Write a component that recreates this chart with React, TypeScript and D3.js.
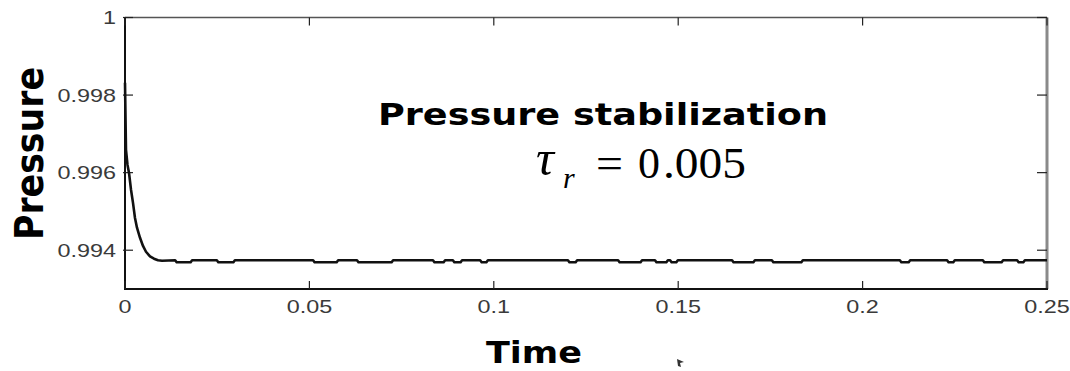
import React from 'react';
import * as d3 from 'd3';

// transient part
const decayTime = [0, 0.00027, 0.00068, 0.00108, 0.00163, 0.00217, 0.00271, 0.00325, 0.00407, 0.00488, 0.00569, 0.00678, 0.00786, 0.00895, 0.01003];
const decayPressure = [0.99832, 0.99659, 0.9962, 0.996, 0.99556, 0.99522, 0.99483, 0.99458, 0.99432, 0.99411, 0.99396, 0.99384, 0.99378, 0.99374, 0.99373];

// steady level and the small dips along it
const steadyLevel = 0.99374;
const dipLevel = 0.99369;
const dipStart = [0.0136, 0.0249, 0.051, 0.0629, 0.0835, 0.0889, 0.0963, 0.1201, 0.1337, 0.1437, 0.1478, 0.1646, 0.1754, 0.2101, 0.2229, 0.2326, 0.2419];
const dipEnd = [0.0182, 0.0298, 0.0578, 0.0727, 0.0868, 0.0914, 0.0984, 0.1226, 0.1402, 0.1472, 0.1499, 0.1708, 0.1838, 0.2129, 0.225, 0.2381, 0.244];
const endTime = 0.25;

const xTicks = [0, 0.05, 0.1, 0.15, 0.2, 0.25];
const xTickLabels = ['0', '0.05', '0.1', '0.15', '0.2', '0.25'];
const yTicks = [0.994, 0.996, 0.998, 1];
const yTickLabels = ['0.994', '0.996', '0.998', '1'];

const width = 1070;
const height = 371;
const margin = { top: 17.5, right: 23, bottom: 82, left: 125 };

export default function App() {
  const x = d3.scaleLinear().domain([0, 0.25]).range([margin.left, width - margin.right]);
  const y = d3.scaleLinear().domain([0.993, 1]).range([height - margin.bottom, margin.top]);

  const points: [number, number][] = decayTime.map((t, i) => [t, decayPressure[i]]);
  const e = 0.0004;
  dipStart.forEach((s, i) => {
    points.push([s, steadyLevel], [s + e, dipLevel], [dipEnd[i] - e, dipLevel], [dipEnd[i], steadyLevel]);
  });
  points.push([endTime, steadyLevel]);

  const line = d3
    .line<[number, number]>()
    .x((d) => x(d[0]))
    .y((d) => y(d[1]));

  const x0 = x(0);
  const x1 = x(0.25);
  const y0 = y(0.993);
  const y1 = y(1);
  const tickLen = 8;
  const labelFont = '"Liberation Sans", Arial, sans-serif';

  return (
    <svg width={width} height={height} style={{ position: 'absolute', left: 0, top: 0, background: '#fff' }}>
      {/* frame */}
      <line x1={x0} x2={x1} y1={y1} y2={y1} stroke="#555" strokeWidth={1.5} />
      <line x1={x1} x2={x1} y1={y1} y2={y0} stroke="#8a8a8a" strokeWidth={3} />
      <line x1={x0} x2={x1 + 1} y1={y0} y2={y0} stroke="#111" strokeWidth={2} />
      <line x1={x0} x2={x0} y1={y1 - 0.5} y2={y0 + 1} stroke="#111" strokeWidth={2} />

      {/* ticks */}
      {xTicks.map((t) => (
        <g key={'xt' + t}>
          <line x1={x(t)} x2={x(t)} y1={y0} y2={y0 - tickLen} stroke="#222" strokeWidth={1.2} />
          <line x1={x(t)} x2={x(t)} y1={y1} y2={y1 + tickLen} stroke="#222" strokeWidth={1.2} />
        </g>
      ))}
      {yTicks.map((t) => (
        <g key={'yt' + t}>
          <line x1={x0 - 2} x2={x0 + tickLen} y1={y(t)} y2={y(t)} stroke="#222" strokeWidth={1.2} />
          <line x1={x1} x2={x1 - tickLen - 2} y1={y(t)} y2={y(t)} stroke="#222" strokeWidth={1.2} />
        </g>
      ))}

      {/* tick labels */}
      {xTicks.map((t, i) => (
        <text
          key={'xl' + t}
          transform={`translate(${x(t)},${y0 + 24}) scale(1.3,1)`}
          textAnchor="middle"
          fontFamily={labelFont}
          fontSize={18}
          fill="#3a3a3a"
        >
          {xTickLabels[i]}
        </text>
      ))}
      {yTicks.map((t, i) => (
        <text
          key={'yl' + t}
          transform={`translate(${x0 - 9},${y(t) + 6.5}) scale(1.3,1)`}
          textAnchor="end"
          fontFamily={labelFont}
          fontSize={18}
          fill="#3a3a3a"
        >
          {yTickLabels[i]}
        </text>
      ))}

      {/* curve */}
      <path d={line(points) || ''} fill="none" stroke="#111" strokeWidth={2.6} strokeLinejoin="round" />

      {/* axis titles */}
      <text
        x={486}
        y={363}
        fontFamily='"DejaVu Sans", Verdana, sans-serif'
        fontWeight="bold"
        fontSize={31}
        textLength={96}
        lengthAdjust="spacingAndGlyphs"
        fill="#000"
      >
        Time
      </text>
      <text
        transform="translate(43,240) scale(1.12,1) rotate(-90)"
        fontFamily='"DejaVu Sans", Verdana, sans-serif'
        fontWeight="bold"
        fontSize={35}
        textLength={173}
        lengthAdjust="spacingAndGlyphs"
        fill="#000"
      >
        Pressure
      </text>

      {/* annotation */}
      <text
        x={378}
        y={125}
        fontFamily='"DejaVu Sans", Verdana, sans-serif'
        fontWeight="bold"
        fontSize={30}
        textLength={450}
        lengthAdjust="spacingAndGlyphs"
        fill="#000"
      >
        Pressure stabilization
      </text>
      <g fontFamily='"Liberation Serif", "Times New Roman", serif' fill="#000">
        <text x={536} y={175} fontSize={50} fontStyle="italic">
          τ
        </text>
        <text x={563} y={188} fontSize={30} fontStyle="italic">
          r
        </text>
        <text x={596} y={178} fontSize={44} textLength={27} lengthAdjust="spacingAndGlyphs">
          =
        </text>
        <text x={638} y={178} fontSize={44}>
          0
        </text>
        <text x={663} y={178} fontSize={44} textLength={83} lengthAdjust="spacingAndGlyphs">
          .005
        </text>
      </g>

      {/* small stray mark below the axis */}
      <path d="M677,359 L684,362 L680,363 L681,367 L678,366 Z" fill="#333" />
    </svg>
  );
}
